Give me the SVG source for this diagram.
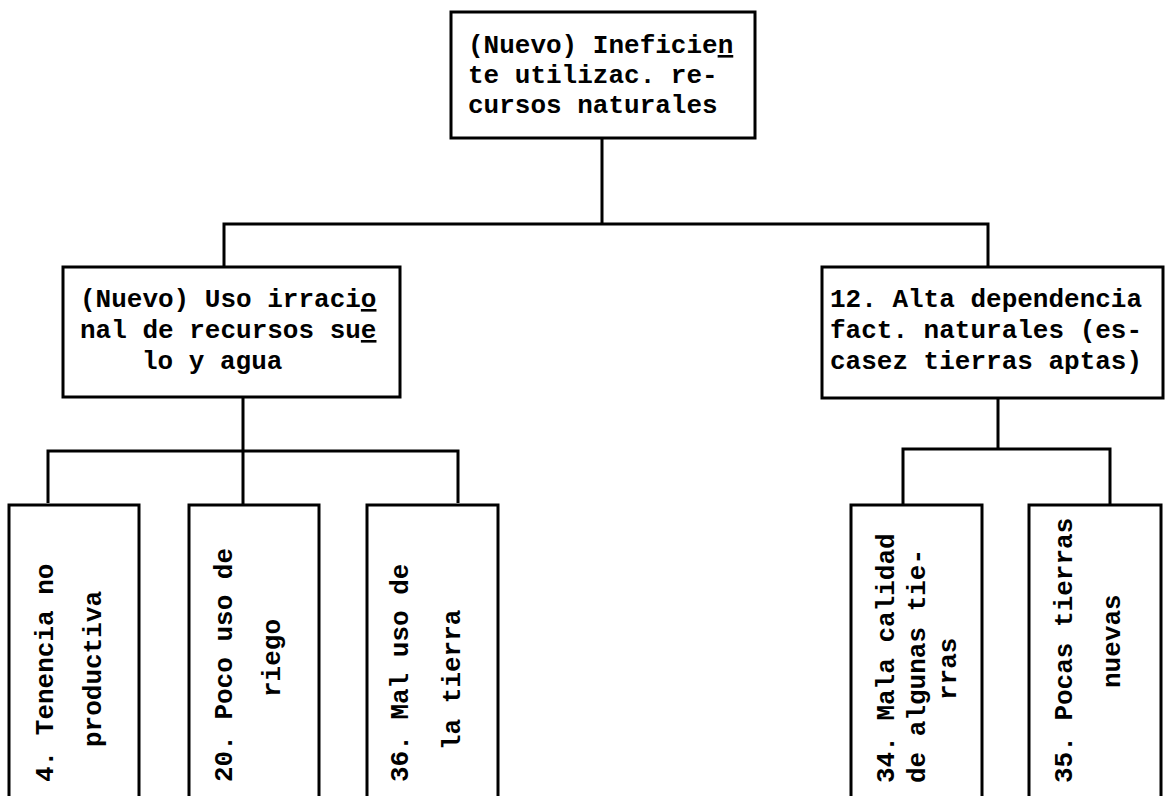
<svg xmlns="http://www.w3.org/2000/svg" width="1166" height="796" viewBox="0 0 1166 796">
  <style>
    .box { fill: none; stroke: #000; stroke-width: 3; }
    .wire { fill: none; stroke: #000; stroke-width: 3; }
    .t { font-family: "Liberation Mono", "Courier New", monospace; font-size: 26px; font-weight: bold; fill: #000; }
    .u { text-decoration: underline; }
  </style>
  <rect width="1166" height="796" fill="#fff"/>

  <!-- tree connectors -->
  <g id="connectors">
    <path class="wire" d="M602 138 V224 M224 267 V224 H988 V267"/>
    <path class="wire" d="M243 397 V505 M48 503 V451 H458 V503"/>
    <path class="wire" d="M998 398 V449 M903 505 V449 H1110 V505"/>
  </g>

  <g id="root">
    <rect class="box" x="451" y="12" width="304" height="126"/>
    <text class="t" x="468" y="53">(Nuevo) Ineficie<tspan class="u">n</tspan></text>
    <text class="t" x="468" y="83">te utilizac. re-</text>
    <text class="t" x="468" y="113">cursos naturales</text>
  </g>

  <g id="uso-irracional">
    <rect class="box" x="63" y="267" width="337" height="130"/>
    <text class="t" x="80" y="307">(Nuevo) Uso irraci<tspan class="u">o</tspan></text>
    <text class="t" x="80" y="338">nal de recursos su<tspan class="u">e</tspan></text>
    <text class="t" x="142" y="369">lo y agua</text>
  </g>

  <g id="alta-dependencia">
    <rect class="box" x="822" y="267" width="341" height="131"/>
    <text class="t" x="830" y="307">12. Alta dependencia</text>
    <text class="t" x="830" y="338">fact. naturales (es-</text>
    <text class="t" x="830" y="369">casez tierras aptas)</text>
  </g>

  <g id="tenencia">
    <rect class="box" x="9" y="505" width="130" height="300"/>
    <text class="t" transform="translate(53 782) rotate(-90)">4. Tenencia no</text>
    <text class="t" transform="translate(101 747) rotate(-90)">productiva</text>
  </g>

  <g id="riego">
    <rect class="box" x="189" y="505" width="130" height="300"/>
    <text class="t" transform="translate(232 782) rotate(-90)">20. Poco uso de</text>
    <text class="t" transform="translate(280 697) rotate(-90)">riego</text>
  </g>

  <g id="mal-uso">
    <rect class="box" x="367" y="505" width="131" height="300"/>
    <text class="t" transform="translate(408 782) rotate(-90)">36. Mal uso de</text>
    <text class="t" transform="translate(460 750) rotate(-90)">la tierra</text>
  </g>

  <g id="mala-calidad">
    <rect class="box" x="851" y="505" width="131" height="300"/>
    <text class="t" transform="translate(894 783) rotate(-90)">34. Mala calidad</text>
    <text class="t" transform="translate(925 783) rotate(-90)">de algunas tie-</text>
    <text class="t" transform="translate(956 700) rotate(-90)">rras</text>
  </g>

  <g id="pocas-tierras">
    <rect class="box" x="1029" y="505" width="132" height="300"/>
    <text class="t" transform="translate(1072 783) rotate(-90)">35. Pocas tierras</text>
    <text class="t" transform="translate(1120 688) rotate(-90)">nuevas</text>
  </g>
</svg>
